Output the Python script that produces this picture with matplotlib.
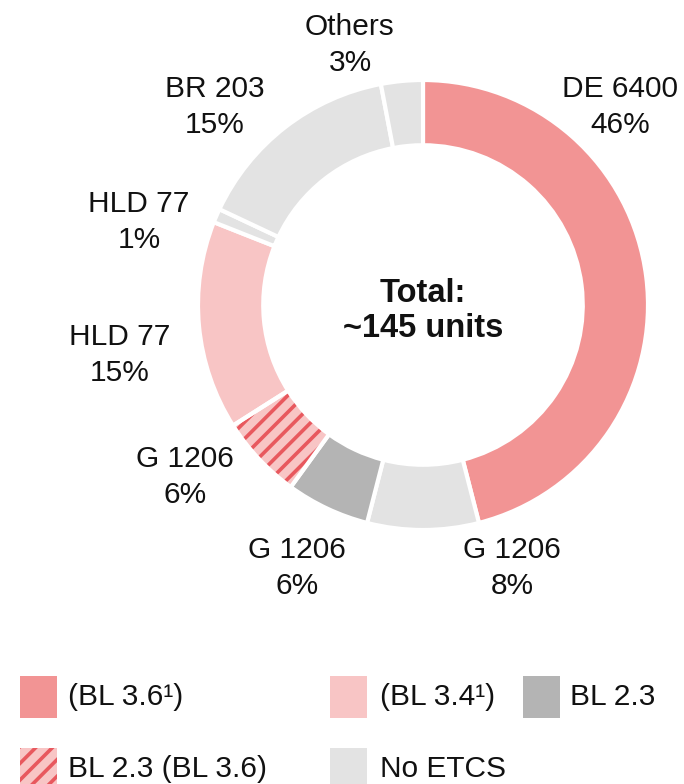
import matplotlib
matplotlib.use("Agg")
import matplotlib.pyplot as plt
from matplotlib.patches import Wedge, Rectangle

plt.rcParams['font.family'] = ['Liberation Sans', 'DejaVu Sans']
plt.rcParams['hatch.linewidth'] = 2.6

# Data
names = ["DE 6400", "G 1206", "G 1206", "G 1206", "HLD 77", "HLD 77", "BR 203", "Others"]
shares = [46, 8, 6, 6, 15, 1, 15, 3]
kinds = ["BL36", "NONE", "BL23", "HATCH", "BL34", "NONE", "NONE", "NONE"]

legend_labels = ["(BL 3.6\u00b9)", "(BL 3.4\u00b9)", "BL 2.3", "BL 2.3 (BL 3.6)", "No ETCS"]
legend_kinds = ["BL36", "BL34", "BL23", "HATCH", "NONE"]

total_text = "Total:\n~145 units"

# Styles
colors = {"BL36": "#F29494", "BL34": "#F8C5C5", "BL23": "#B4B4B4",
          "HATCH": "#F8C5C5", "NONE": "#E3E3E3"}
hatch_color = "#E8585E"

W, H = 684, 784
cx, cy, R = 423, 305, 225


def to_data(px, py):
    return ((px - cx) / R, (cy - py) / R)


# label centres in pixels (converted to data coords around pie centre)
label_px = [(620, 107), (512, 568), (297, 568), (185, 477),
            (120, 355), (139, 222), (215, 107), (350, 45)]

fig = plt.figure(figsize=(W / 100, H / 100), dpi=100)
ax = fig.add_axes([(cx - R) / W, (H - (cy + R)) / H, 2 * R / W, 2 * R / H])

width = 0.29
wedges, _ = ax.pie(shares, startangle=90, counterclock=False,
                   colors=[colors[k] for k in kinds],
                   wedgeprops=dict(width=width, edgecolor="white", linewidth=3))
for w, k in zip(wedges, kinds):
    if k == "HATCH":
        w.set_hatch("//")
        w.set_edgecolor(hatch_color)
        w.set_linewidth(0)
        outline = Wedge(w.center, w.r, w.theta1, w.theta2, width=w.width,
                        facecolor="none", edgecolor="white", linewidth=3)
        ax.add_patch(outline)
ax.set_xlim(-1, 1)
ax.set_ylim(-1, 1)
ax.set_aspect("equal")
ax.axis("off")

FS = 21.5
for (px, py), n, s in zip(label_px, names, shares):
    x, y = to_data(px, py)
    ax.text(x, y, f"{n}\n{s}%", ha="center", va="center", fontsize=FS,
            linespacing=1.38, color="#111111")

tx, ty = to_data(423, 311)
ax.text(tx, ty, total_text, ha="center", va="center", fontsize=23.5,
        fontweight="bold", linespacing=1.2, color="#111111")

# Legend (manual)
leg_items = [(20, 676, 68), (330, 676, 380), (523, 676, 570),
             (20, 748, 68), (330, 748, 380)]
pw, ph = 37, 42
for (px, py, tx_), lab, k in zip(leg_items, legend_labels, legend_kinds):
    r = Rectangle((px / W, 1 - (py + ph) / H), pw / W, ph / H,
                  transform=fig.transFigure, facecolor=colors[k],
                  edgecolor=hatch_color if k == "HATCH" else "none",
                  linewidth=0, hatch="//" if k == "HATCH" else None)
    fig.add_artist(r)
    fig.text(tx_ / W, 1 - (py + ph / 2) / H, lab, ha="left", va="center",
             fontsize=FS, color="#111111")

fig.savefig("out.png", dpi=100, facecolor="white")
